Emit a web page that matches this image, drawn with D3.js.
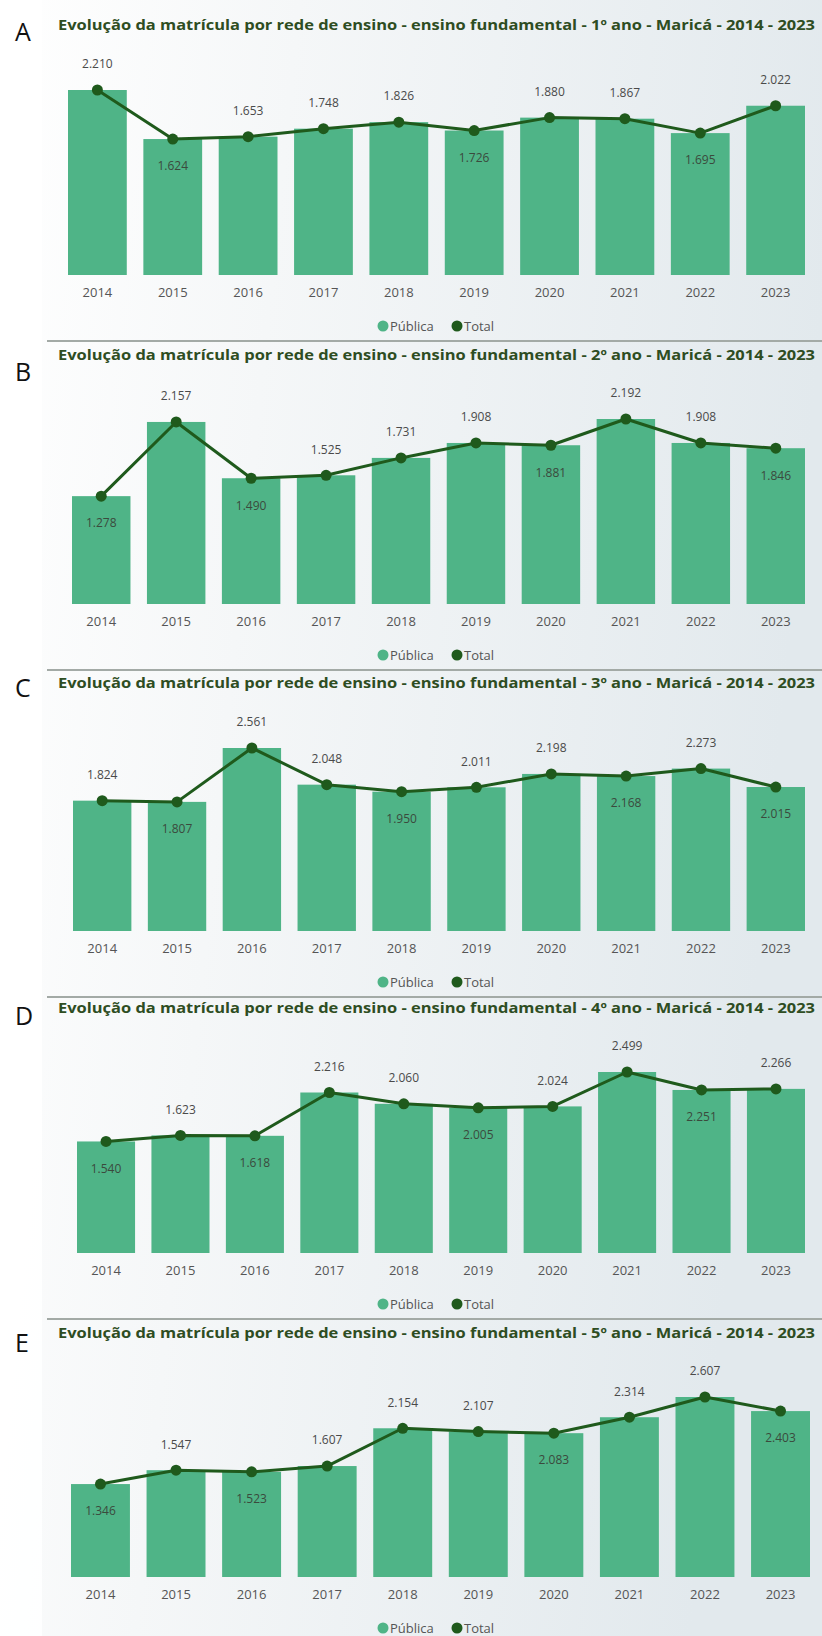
<!DOCTYPE html>
<html>
<head>
<meta charset="utf-8">
<script src="https://cdn.jsdelivr.net/npm/d3@7/dist/d3.min.js"></script>
<style>
  html, body { margin: 0; padding: 0; background: #ffffff; }
  svg { display: block; }
</style>
</head>
<body>
<svg id="chart" width="822" height="1636"></svg>
<script>
// ---------- DATA ----------
const years = ["2014","2015","2016","2017","2018","2019","2020","2021","2022","2023"];
const panelLetters = ["A","B","C","D","E"];
const titles = [
  "Evolução da matrícula por rede de ensino - ensino fundamental - 1º ano - Maricá - 2014 - 2023",
  "Evolução da matrícula por rede de ensino - ensino fundamental - 2º ano - Maricá - 2014 - 2023",
  "Evolução da matrícula por rede de ensino - ensino fundamental - 3º ano - Maricá - 2014 - 2023",
  "Evolução da matrícula por rede de ensino - ensino fundamental - 4º ano - Maricá - 2014 - 2023",
  "Evolução da matrícula por rede de ensino - ensino fundamental - 5º ano - Maricá - 2014 - 2023"
];
const seriesNames = ["Pública", "Total"];

// 1º ano
const publica1 = [2210,1624,1653,1748,1826,1726,1880,1867,1695,2022];
const total1   = [2210,1624,1653,1748,1826,1726,1880,1867,1695,2022];
// 2º ano
const publica2 = [1278,2157,1490,1525,1731,1908,1881,2192,1908,1846];
const total2   = [1278,2157,1490,1525,1731,1908,1881,2192,1908,1846];
// 3º ano
const publica3 = [1824,1807,2561,2048,1950,2011,2198,2168,2273,2015];
const total3   = [1824,1807,2561,2048,1950,2011,2198,2168,2273,2015];
// 4º ano
const publica4 = [1540,1623,1618,2216,2060,2005,2024,2499,2251,2266];
const total4   = [1540,1623,1618,2216,2060,2005,2024,2499,2251,2266];
// 5º ano
const publica5 = [1346,1547,1523,1607,2154,2107,2083,2314,2607,2403];
const total5   = [1346,1547,1523,1607,2154,2107,2083,2314,2607,2403];

// ---------- LAYOUT (not data) ----------
const panels = [
  {pub: publica1, tot: total1},
  {pub: publica2, tot: total2},
  {pub: publica3, tot: total3},
  {pub: publica4, tot: total4},
  {pub: publica5, tot: total5}
];
const titleY  = [25, 355, 683, 1008, 1333];
const letterY = [32, 372, 688, 1016, 1343];
const baseY   = [275, 604, 931, 1253, 1577];
const maxH    = [185, 185, 183, 181, 180];
const xLeft   = [68, 72, 73, 77, 71];
const xRight  = [805, 805, 805, 805, 810];
// label placement: a = above the point, b = below
const labelPos = [
  ["a","b","a","a","a","b","a","a","b","a"],
  ["b","a","b","a","a","a","b","a","a","b"],
  ["a","b","a","a","b","a","a","b","a","b"],
  ["b","a","b","a","a","b","a","a","b","a"],
  ["b","a","b","a","a","a","b","a","a","b"]
];

const barColor  = "#4fb487";
const lineColor = "#1f5a1c";
const fontFam = "'Open Sans', 'Noto Sans', sans-serif";

const locale = d3.formatLocale({decimal: ",", thousands: ".", grouping: [3], currency: ["R$", ""]});
const fmt = locale.format(",d");

const svg = d3.select("#chart");

// background
const defs = svg.append("defs");
const grad = defs.append("linearGradient").attr("id", "bg").attr("x1", "0").attr("y1", "0").attr("x2", "1").attr("y2", "0.2");
grad.append("stop").attr("offset", "0%").attr("stop-color", "#ffffff");
grad.append("stop").attr("offset", "35%").attr("stop-color", "#f5f7f8");
grad.append("stop").attr("offset", "100%").attr("stop-color", "#e2e9ed");
svg.append("rect").attr("width", 822).attr("height", 1636).attr("fill", "url(#bg)");
svg.append("rect").attr("x", 0).attr("y", 0).attr("width", 42).attr("height", 1636).attr("fill", "#ffffff").attr("opacity", 0.85);

panels.forEach((p, i) => {
  const g = svg.append("g");

  const x = d3.scaleBand().domain(years).range([xLeft[i], xRight[i]]).paddingInner(0.22).paddingOuter(0);
  const y = d3.scaleLinear().domain([0, d3.max(p.tot)]).range([baseY[i], baseY[i] - maxH[i]]);

  // letter
  g.append("text")
    .attr("x", 15).attr("y", letterY[i]).attr("dy", "0.36em")
    .attr("font-family", fontFam).attr("font-size", 25).attr("font-weight", 400)
    .attr("fill", "#111").text(panelLetters[i]);

  // title (fit to width)
  const t = g.append("text")
    .attr("x", 58).attr("y", titleY[i]).attr("dy", "0.36em")
    .attr("font-family", fontFam).attr("font-size", 14).attr("font-weight", 700)
    .attr("fill", "#2e4d22").text(titles[i]);
  const target = 757;
  const w = t.node().getComputedTextLength();
  if (w > 0) t.attr("textLength", target).attr("lengthAdjust", "spacingAndGlyphs");

  // bars
  g.append("g").selectAll("rect").data(years).join("rect")
    .attr("x", d => x(d))
    .attr("y", (d, k) => y(p.pub[k]))
    .attr("width", x.bandwidth())
    .attr("height", (d, k) => y(0) - y(p.pub[k]))
    .attr("fill", barColor);

  // x axis
  const axis = d3.axisBottom(x).tickSize(0).tickPadding(0);
  const ax = g.append("g").attr("transform", `translate(0,${baseY[i] + 17})`).call(axis);
  ax.select(".domain").remove();
  ax.selectAll("text").attr("dy", "0.36em").attr("font-family", fontFam).attr("font-size", 13).attr("fill", "#555");

  // line
  const line = d3.line().x((d, k) => x(years[k]) + x.bandwidth() / 2).y(d => y(d));
  g.append("path").datum(p.tot).attr("d", line)
    .attr("fill", "none").attr("stroke", lineColor).attr("stroke-width", 3).attr("stroke-linejoin", "round");
  g.append("g").selectAll("circle").data(p.tot).join("circle")
    .attr("cx", (d, k) => x(years[k]) + x.bandwidth() / 2)
    .attr("cy", d => y(d))
    .attr("r", 5.5).attr("fill", lineColor);

  // data labels
  g.append("g").selectAll("text").data(p.tot).join("text")
    .attr("x", (d, k) => x(years[k]) + x.bandwidth() / 2)
    .attr("y", (d, k) => y(d) + (labelPos[i][k] === "a" ? -26 : 27))
    .attr("dy", "0.36em").attr("text-anchor", "middle")
    .attr("font-family", fontFam).attr("font-size", 12)
    .attr("fill", (d, k) => labelPos[i][k] === "a" ? "#4a4a4a" : "#3b4a3d")
    .text(d => fmt(d));

  // legend
  const ly = baseY[i] + 51;
  const leg = g.append("g");
  leg.append("circle").attr("cx", 383).attr("cy", ly).attr("r", 5.5).attr("fill", barColor);
  leg.append("text").attr("x", 390).attr("y", ly).attr("dy", "0.36em")
    .attr("font-family", fontFam).attr("font-size", 13).attr("fill", "#555").text(seriesNames[0]);
  leg.append("circle").attr("cx", 457).attr("cy", ly).attr("r", 5.5).attr("fill", lineColor);
  leg.append("text").attr("x", 464).attr("y", ly).attr("dy", "0.36em")
    .attr("font-family", fontFam).attr("font-size", 13).attr("fill", "#555").text(seriesNames[1]);

  // separator
  if (i < panels.length - 1) {
    g.append("line").attr("x1", 47).attr("x2", 822)
      .attr("y1", baseY[i] + 66).attr("y2", baseY[i] + 66)
      .attr("stroke", "#a3aaa6").attr("stroke-width", 2);
  }
});
</script>
</body>
</html>
